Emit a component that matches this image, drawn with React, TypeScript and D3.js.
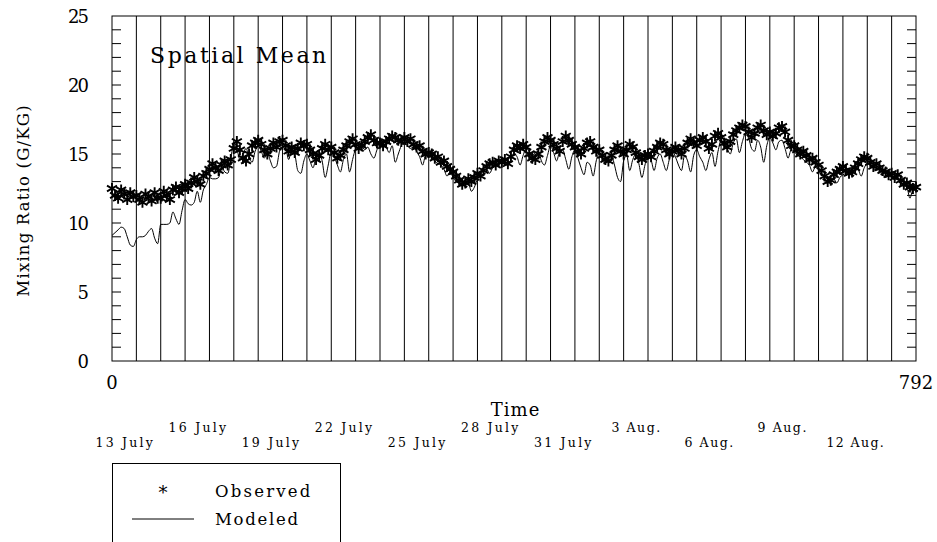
import React, { useEffect, useRef } from 'react';
import * as d3 from 'd3';

// 3-hourly samples, 8 per day, day 0 = 13 July ... day 32 = 14 Aug.
const observed: number[][] = [
    [12.5, 12.0, 11.8, 12.4, 12.1, 11.7, 12.2, 11.9],
    [12.0, 11.7, 11.5, 12.1, 11.9, 11.6, 12.2, 11.8],
    [11.8, 12.3, 12.0, 11.7, 12.4, 12.6, 12.2, 12.5],
    [12.8, 12.5, 12.9, 13.3, 13.0, 12.8, 13.4, 13.6],
    [13.9, 14.3, 14.0, 13.8, 14.2, 14.5, 14.2, 14.6],
    [15.4, 15.9, 15.3, 14.7, 14.5, 15.0, 15.6, 15.8],
    [16.0, 15.7, 15.3, 15.0, 15.4, 15.8, 15.5, 15.9],
    [16.0, 15.6, 15.2, 15.5, 15.1, 15.4, 15.8, 15.6],
    [15.7, 15.3, 15.0, 14.6, 14.9, 15.4, 15.7, 15.3],
    [15.5, 15.1, 14.7, 14.9, 15.3, 15.6, 15.9, 16.1],
    [15.7, 15.4, 15.6, 15.9, 16.2, 16.4, 16.0, 15.8],
    [15.8, 15.6, 15.9, 16.1, 16.3, 16.2, 16.0, 15.9],
    [16.2, 15.9, 16.1, 15.7, 15.5, 15.6, 15.2, 15.0],
    [15.1, 15.0, 14.7, 14.8, 14.4, 14.5, 14.1, 13.9],
    [13.7, 13.4, 13.1, 12.8, 12.9, 13.2, 13.0, 13.3],
    [13.6, 13.4, 13.8, 14.1, 14.3, 14.4, 14.2, 14.5],
    [14.4, 14.6, 14.3, 14.8, 15.3, 15.6, 15.4, 15.7],
    [15.5, 15.0, 14.7, 14.6, 15.0, 15.5, 15.9, 16.2],
    [16.0, 15.7, 15.4, 15.2, 15.9, 16.3, 16.0, 15.7],
    [15.5, 15.2, 15.0, 15.4, 15.8, 15.9, 15.5, 15.2],
    [15.3, 14.9, 14.6, 14.5, 14.9, 15.3, 15.6, 15.2],
    [15.0, 15.3, 15.7, 15.5, 15.1, 14.8, 14.6, 14.9],
    [15.0, 14.8, 15.2, 15.5, 15.8, 15.7, 15.3, 15.0],
    [15.2, 15.5, 15.3, 15.0, 15.4, 15.8, 16.1, 15.8],
    [15.6, 16.0, 16.2, 15.9, 15.4, 15.7, 16.3, 16.5],
    [16.2, 15.8, 15.5, 15.9, 16.4, 16.7, 16.9, 17.1],
    [17.0, 16.6, 16.2, 16.5, 16.9, 17.1, 16.7, 16.4],
    [16.6, 16.3, 16.5, 16.9, 17.0, 16.6, 16.0, 15.6],
    [15.6, 15.3, 15.0, 15.2, 14.9, 14.6, 14.7, 14.4],
    [14.2, 13.8, 13.4, 13.0, 13.1, 13.5, 13.7, 13.9],
    [14.1, 13.8, 13.6, 13.7, 14.0, 14.3, 14.6, 14.8],
    [14.7, 14.4, 14.1, 14.3, 14.0, 13.8, 13.7, 13.5],
    [13.6, 13.3, 13.5, 13.1, 12.8, 12.9, 12.6, 12.5],
];
const observedLast = 12.6;

const modeled: number[][] = [
    [9.1, 9.3, 9.5, 9.7, 9.6, 9.0, 8.4, 8.3],
    [8.8, 9.0, 9.0, 9.1, 9.4, 9.6, 8.9, 8.5],
    [9.9, 9.9, 9.9, 10.0, 10.8, 10.3, 9.9, 10.9],
    [11.7, 11.4, 11.3, 11.5, 12.3, 11.5, 12.4, 12.8],
    [13.3, 13.2, 13.2, 13.3, 14.1, 13.7, 13.6, 14.6],
    [15.9, 15.4, 14.6, 15.0, 15.4, 14.8, 14.4, 15.2],
    [15.6, 15.2, 14.7, 15.1, 14.5, 14.0, 14.1, 15.2],
    [15.7, 15.5, 14.6, 15.3, 15.0, 13.8, 13.6, 14.5],
    [15.0, 14.5, 14.0, 14.8, 15.2, 14.5, 13.3, 14.2],
    [15.2, 14.8, 14.2, 13.7, 14.6, 15.0, 13.7, 14.6],
    [15.4, 15.7, 15.6, 15.3, 15.5, 15.0, 14.7, 15.3],
    [15.8, 15.6, 15.5, 15.1, 15.6, 14.4, 15.0, 15.6],
    [15.8, 15.6, 15.4, 15.5, 15.2, 14.8, 14.2, 14.9],
    [14.9, 14.7, 14.5, 14.3, 14.2, 13.9, 13.4, 13.7],
    [13.3, 13.0, 12.9, 13.0, 12.8, 12.9, 12.3, 12.6],
    [13.2, 13.5, 13.8, 13.9, 13.6, 14.0, 14.1, 14.3],
    [14.4, 14.6, 14.7, 14.9, 15.0, 14.8, 14.2, 14.9],
    [15.4, 15.2, 14.9, 15.1, 15.2, 14.5, 14.2, 14.9],
    [15.6, 15.1, 14.5, 15.2, 15.3, 14.6, 13.9, 14.8],
    [15.3, 14.7, 14.0, 13.5, 14.4, 14.2, 13.4, 14.5],
    [15.1, 14.8, 14.3, 14.6, 14.9, 14.2, 13.3, 13.0],
    [14.5, 14.9, 13.8, 14.6, 15.0, 14.3, 13.3, 14.2],
    [15.0, 14.6, 13.8, 14.7, 15.0, 14.4, 13.8, 14.6],
    [15.2, 14.8, 14.2, 13.8, 14.9, 14.5, 13.7, 14.9],
    [15.3, 14.8, 14.4, 13.8, 14.6, 15.1, 14.1, 15.2],
    [16.0, 15.8, 15.4, 15.0, 15.8, 16.1, 15.1, 15.9],
    [16.5, 16.2, 15.4, 15.2, 16.0, 15.5, 14.4, 15.6],
    [16.2, 15.8, 15.3, 15.9, 16.0, 15.4, 14.7, 15.3],
    [15.2, 14.9, 14.8, 14.6, 14.4, 14.2, 13.7, 14.1],
    [13.9, 13.6, 13.2, 13.0, 13.1, 13.2, 12.9, 13.3],
    [13.5, 13.6, 13.8, 13.9, 14.1, 13.9, 13.4, 14.0],
    [14.3, 14.2, 14.0, 13.8, 13.9, 13.6, 13.3, 13.4],
    [13.3, 13.1, 13.2, 12.9, 12.7, 12.6, 11.8, 12.4],
];
const modeledLast = 12.4;

const yTicks = [0, 5, 10, 15, 20, 25];
const dateDays = [0, 3, 6, 9, 12, 15, 18, 21, 24, 27, 30];
const dateNames = ['13 July', '16 July', '19 July', '22 July', '25 July', '28 July',
    '31 July', '3 Aug.', '6 Aug.', '9 Aug.', '12 Aug.'];

const FONT = '"DejaVu Serif", serif';

const toSeries = (rows: number[][], last: number) => {
    const flat = rows.flat().concat([last]);
    return flat.map((v, i) => ({ t: i * 3, v }));
};

const MixingChart: React.FC = () => {
    const svgRef = useRef<SVGSVGElement>(null);

    useEffect(() => {
        if (!svgRef.current) return;
        const svg = d3.select(svgRef.current);
        svg.selectAll("*").remove();

        const left = 112, right = 916, top = 16, bottom = 361;
        const x = d3.scaleLinear().domain([0, 792]).range([left, right]);
        const y = d3.scaleLinear().domain([0, 25]).range([bottom, top]);

        // plotter font is fixed pitch, so stretch each string to its width
        const label = (g: any, txt: string, px: number, py: number, size: number, pitch: number, anchor = "start") => {
            const t = g.append("text")
                .attr("x", px).attr("y", py)
                .attr("text-anchor", anchor)
                .attr("font-family", FONT).attr("font-size", size)
                .text(txt);
            if (txt.length > 1) t.attr("textLength", txt.length * pitch - pitch * 0.25).attr("lengthAdjust", "spacing");
            return t;
        };

        svg.append("rect").attr("width", 937).attr("height", 542).attr("fill", "white");

        // day lines
        svg.append("g")
            .selectAll("line")
            .data(d3.range(24, 792, 24))
            .join("line")
            .attr("x1", d => x(d)).attr("x2", d => x(d))
            .attr("y1", top).attr("y2", bottom)
            .attr("stroke", "black").attr("stroke-width", 1);

        // inward minor ticks on both sides
        const ticks = d3.range(1, 25);
        svg.append("g")
            .selectAll("line")
            .data(ticks)
            .join("line")
            .attr("x1", left).attr("x2", left + 9)
            .attr("y1", d => y(d)).attr("y2", d => y(d))
            .attr("stroke", "black");
        svg.append("g")
            .selectAll("line")
            .data(ticks)
            .join("line")
            .attr("x1", right - 9).attr("x2", right)
            .attr("y1", d => y(d)).attr("y2", d => y(d))
            .attr("stroke", "black");

        svg.append("rect")
            .attr("x", left).attr("y", top)
            .attr("width", right - left).attr("height", bottom - top)
            .attr("fill", "none").attr("stroke", "black").attr("stroke-width", 1);

        // y labels
        yTicks.forEach(v => label(svg, String(v), 89, y(v) + 6.5, 18, 12, "end"));

        const yt = svg.append("g").attr("transform", `translate(29,201) rotate(-90)`);
        label(yt, "Mixing Ratio (G/KG)", 0, 0, 16.5, 10.2, "middle");

        // x end labels
        [0, 792].forEach(v => label(svg, String(v), x(v), 389, 18, 12.6, "middle"));

        label(svg, "Time", 515, 416, 18, 13, "middle");

        dateDays.forEach((d, i) => {
            label(svg, dateNames[i], x(d * 24 + 12), i % 2 === 0 ? 447 : 432, 12.5, 8.5, "middle");
        });

        label(svg, "Spatial Mean", 150, 63, 22, 15);

        // modeled
        const modData = toSeries(modeled, modeledLast);
        const line = d3.line<{ t: number; v: number }>()
            .x(d => x(d.t)).y(d => y(d.v))
            .curve(d3.curveMonotoneX);
        svg.append("path")
            .datum(modData)
            .attr("d", line)
            .attr("fill", "none").attr("stroke", "black").attr("stroke-width", 1);

        // observed asterisks
        const star = "M0,-5.5L0,5.5M-5,-2.8L5,2.8M-5,2.8L5,-2.8";
        const obsData = toSeries(observed, observedLast);
        svg.append("g")
            .selectAll("path")
            .data(obsData)
            .join("path")
            .attr("transform", d => `translate(${x(d.t)},${y(d.v)})`)
            .attr("d", star)
            .attr("fill", "none").attr("stroke", "black").attr("stroke-width", 1.9);

        // legend
        svg.append("rect")
            .attr("x", 112.5).attr("y", 463.5)
            .attr("width", 228).attr("height", 100)
            .attr("fill", "none").attr("stroke", "black");
        label(svg, "*", 163, 499, 18, 12, "middle");
        label(svg, "Observed", 215, 497, 16.5, 12.3);
        svg.append("line")
            .attr("x1", 132).attr("x2", 194).attr("y1", 519).attr("y2", 519)
            .attr("stroke", "black");
        label(svg, "Modeled", 215, 525, 16.5, 12.3);
    }, []);

    return <svg ref={svgRef} width={937} height={542} style={{ display: 'block' }} />;
};

export default function App() {
    useEffect(() => {
        document.body.style.margin = "0";
    }, []);
    return <MixingChart />;
}
